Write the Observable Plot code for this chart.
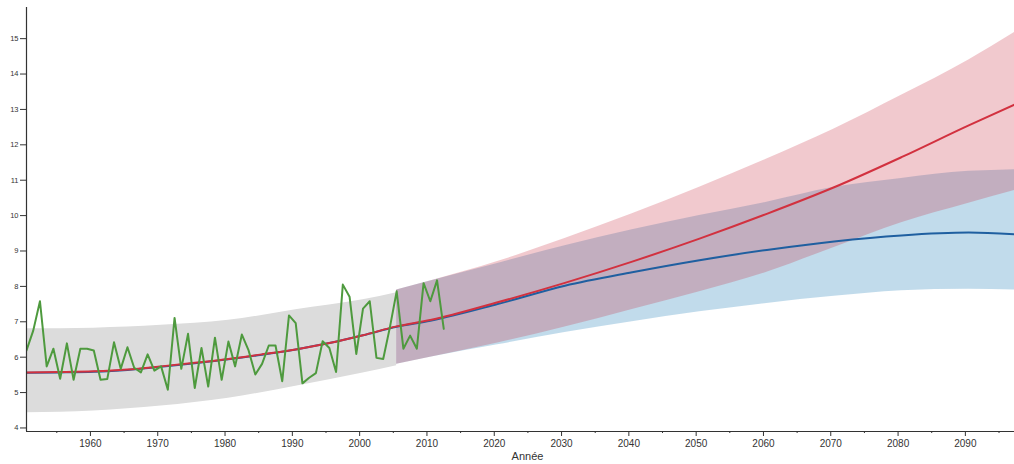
<!DOCTYPE html>
<html><head><meta charset="utf-8">
<script src="https://cdn.jsdelivr.net/npm/d3@7"></script>
<script src="https://cdn.jsdelivr.net/npm/@observablehq/plot@0.6"></script>
<style>body{margin:0;background:#fff} svg{display:block}</style>
</head><body><div id="chart"></div>
<script>
// Observed annual values
const obsYears = d3.range(1950, 2013);
const obsTemp = [6.19,6.75,7.58,5.74,6.24,5.39,6.39,5.36,6.24,6.24,6.19,5.36,5.38,
  6.42,5.67,6.28,5.70,5.57,6.08,5.62,5.74,5.08,7.11,5.67,6.66,5.13,
  6.26,5.17,6.55,5.36,6.44,5.74,6.64,6.19,5.51,5.81,6.33,6.33,
  5.32,7.18,6.96,5.26,5.42,5.55,6.45,6.26,5.58,8.05,7.71,6.09,7.37,
  7.58,5.98,5.95,6.85,7.86,6.24,6.61,6.24,8.09,7.58,8.17,6.80];

// Trend lines
const trendYears = [1950,1955,1960,1965,1970,1975,1980,1985,1990,1995,2000,2005,2010,2020,2030,2040,2050,2060,2070,2080,2090,2097];
const redTrend   = [5.57,5.58,5.60,5.65,5.74,5.84,5.95,6.08,6.22,6.40,6.62,6.87,7.05,7.55,8.10,8.70,9.35,10.05,10.80,11.65,12.55,13.15];
const blueTrend  = [5.56,5.57,5.59,5.64,5.73,5.83,5.94,6.07,6.22,6.40,6.62,6.86,7.03,7.50,8.02,8.40,8.74,9.03,9.27,9.44,9.52,9.47];

// Observed-period envelope
const grayYears = [1950,1960,1970,1980,1990,2000,2005];
const grayLow   = [4.43,4.48,4.62,4.84,5.18,5.55,5.76];
const grayHigh  = [6.80,6.82,6.90,7.04,7.34,7.62,7.82];

// Projection envelopes
const projYears = [2005,2010,2020,2030,2040,2050,2060,2070,2080,2090,2097];
const redLow    = [5.80,6.00,6.40,6.85,7.35,7.85,8.40,9.10,9.80,10.35,10.72];
const redHigh   = [7.90,8.15,8.70,9.35,10.05,10.80,11.60,12.45,13.40,14.40,15.20];
const blueLow   = [5.80,6.00,6.35,6.70,7.00,7.28,7.52,7.72,7.88,7.92,7.90];
const blueHigh  = [7.90,8.15,8.65,9.15,9.60,10.00,10.38,10.80,11.05,11.25,11.30];

const xMajorTicks = [1960,1970,1980,1990,2000,2010,2020,2030,2040,2050,2060,2070,2080,2090];
const xMinorTicks = [1955,1965,1975,1985,1995,2005,2015,2025,2035,2045,2055,2065,2075,2085,2095];
const yTicks = [4,5,6,7,8,9,10,11,12,13,14,15];
const xLabel = "Année";

const xDomain = [1950.5, 2097.3];
const yDomain = [3.9, 15.88];
const off = 0.5; // values are centred mid-year

const obs = obsYears.map((y, i) => ({year: y, v: obsTemp[i]}));
const red = trendYears.map((y, i) => ({year: y, v: redTrend[i]}));
const blue = trendYears.map((y, i) => ({year: y, v: blueTrend[i]}));
const gray = grayYears.map((y, i) => ({year: y, lo: grayLow[i], hi: grayHigh[i]}));
const redBand = projYears.map((y, i) => ({year: y, lo: redLow[i], hi: redHigh[i]}));
const blueBand = projYears.map((y, i) => ({year: y, lo: blueLow[i], hi: blueHigh[i]}));
const X = d => d.year + off;

const chart = Plot.plot({
  width: 1014, height: 464,
  marginLeft: 26, marginRight: 0, marginTop: 7, marginBottom: 33,
  style: {fontFamily: "Liberation Sans, Arial, sans-serif", background: "white", color: "#333"},
  x: {domain: xDomain},
  y: {domain: yDomain},
  marks: [
    Plot.areaY(gray, {x: X, y1: "lo", y2: "hi", fill: "#dcdcdc", curve: "monotone-x", clip: true}),
    Plot.areaY(blueBand, {x: X, y1: "lo", y2: "hi", fill: "rgb(67,147,195)", fillOpacity: 0.33, curve: "monotone-x", clip: true}),
    Plot.areaY(redBand, {x: X, y1: "lo", y2: "hi", fill: "rgb(200,40,60)", fillOpacity: 0.25, curve: "monotone-x", clip: true}),
    Plot.line(blue, {x: X, y: "v", stroke: "#1f5fa0", strokeWidth: 2, curve: "monotone-x", clip: true}),
    Plot.line(red, {x: X, y: "v", stroke: "#d2313f", strokeWidth: 2, curve: "monotone-x", clip: true}),
    Plot.line(obs, {x: X, y: "v", stroke: "#4e9a3e", strokeWidth: 2, clip: true}),
    Plot.ruleX([xDomain[0]], {stroke: "#333", strokeWidth: 1.2}),
    Plot.ruleY([yDomain[0]], {stroke: "#333", strokeWidth: 1.2}),
    Plot.axisY({ticks: yTicks, tickSize: 6, tickPadding: 2, fontSize: 7.5, label: null}),
    Plot.axisX({ticks: xMajorTicks, tickSize: 5, tickPadding: 3, fontSize: 10, label: null, tickFormat: d => String(d)}),
    Plot.axisX({ticks: xMinorTicks, tickSize: 2, tickFormat: () => "", label: null}),
    Plot.text([xLabel], {frameAnchor: "bottom", dy: 28, dx: 7, fontSize: 11, fill: "#333"})
  ]
});
document.getElementById("chart").append(chart);
</script>
</body></html>
